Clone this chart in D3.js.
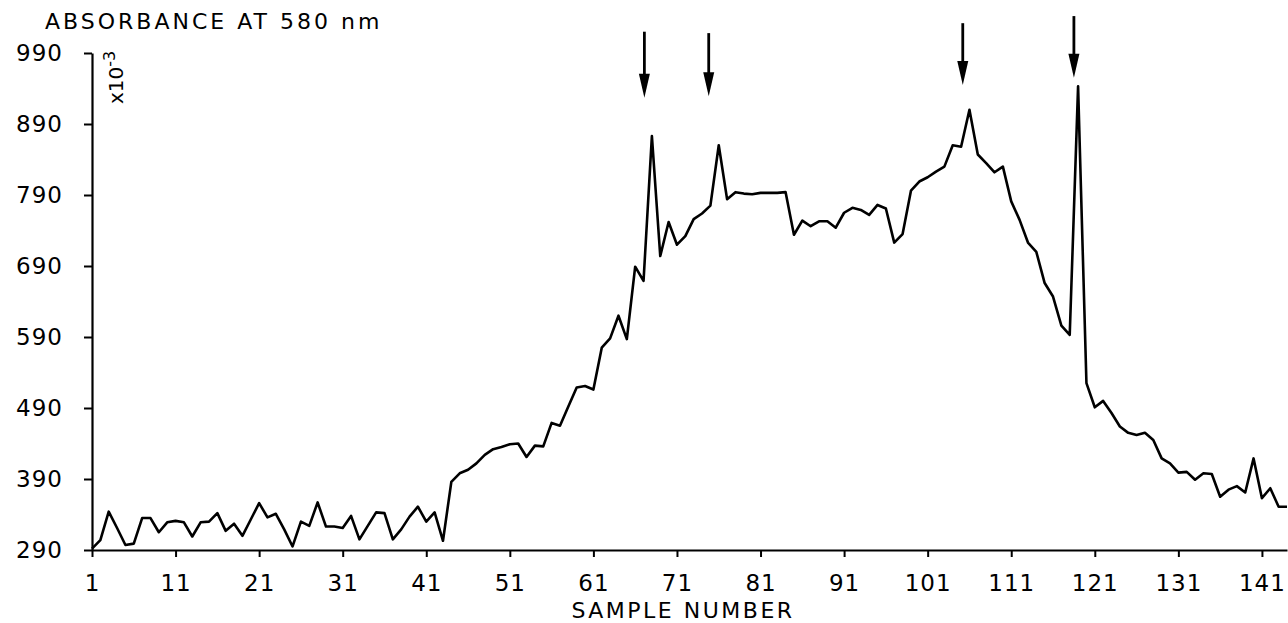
<!DOCTYPE html>
<html>
<head>
<meta charset="utf-8">
<script src="https://cdn.jsdelivr.net/npm/d3@7"></script>
<style>
  body { margin: 0; background: #fff; }
  svg { display: block; }
  text { font-family: "DejaVu Sans", sans-serif; fill: #000; }
</style>
</head>
<body>
<svg class="s"></svg>
<script>
// absorbance (x10^-3) for samples 1..144
var absorbance = [
  292, 304, 344, 321, 297, 299, 335, 335, 315, 329,
  331, 329, 309, 329, 330, 342, 317, 327, 310, 333,
  356, 336, 341, 319, 295, 330, 324, 357, 323, 323,
  321, 338, 305, 324, 343, 342, 305, 319, 337, 351,
  330, 343, 303, 386, 398, 403, 412, 424, 432, 435,
  439, 440, 421, 437, 436, 469, 465, 492, 519, 521,
  516, 575, 588, 620, 587, 689, 669, 873, 704, 752,
  720, 732, 756, 764, 775, 860, 784, 794, 792, 791,
  793, 793, 793, 794, 734, 754, 746, 753, 753, 744,
  765, 772, 769, 762, 776, 771, 723, 735, 796, 809,
  815, 823, 830, 860, 858, 910, 847, 835, 822, 830,
  781, 755, 723, 710, 666, 647, 606, 593, 943, 525,
  491, 500, 483, 464, 455, 452, 455, 445, 419, 412,
  399, 400, 389, 398, 397, 365, 375, 380, 371, 419,
  363, 377, 351, 351
];

var xTicks = [1, 11, 21, 31, 41, 51, 61, 71, 81, 91, 101, 111, 121, 131, 141];
var yTicks = [290, 390, 490, 590, 690, 790, 890, 990];

// the four marker arrows (sample position, tip value, tail value)
var arrowSample = [67.1, 74.8, 105.2, 118.5];
var arrowTip = [927, 929, 945, 955];
var arrowTail = [1020, 1018, 1032, 1042];

var w = 1288;
var h = 623;

var svg = d3.select('.s')
            .attr('width', w)
            .attr('height', h);

var x = d3.scaleLinear()
          .domain([1, 144])
          .range([92, 1287]);

var y = d3.scaleLinear()
          .domain([290, 990])
          .range([550, 53]);

// y axis
var yAxis = svg.append('g')
    .attr('transform', 'translate(92,0)')
    .attr('font-size', 23)
    .call(d3.axisLeft(y).tickValues(yTicks).tickSize(8).tickSizeOuter(0).tickPadding(21));

// x axis
var xAxis = svg.append('g')
    .attr('transform', 'translate(0,550)')
    .call(d3.axisBottom(x).tickValues(xTicks).tickSize(7).tickSizeOuter(0).tickPadding(18));

svg.selectAll('g').attr('font-size', 23).attr('font-family', '"DejaVu Sans", sans-serif');
svg.selectAll('.domain').attr('stroke', '#000').attr('stroke-width', 2.2);
svg.selectAll('.tick line').attr('stroke', '#000').attr('stroke-width', 2);
svg.selectAll('.tick text')
   .style('letter-spacing', '1px')
   .attr('fill', '#000');

// the trace
var line = d3.line()
    .x(function(d, i){ return x(i + 1); })
    .y(function(d){ return y(d); });

svg.append('path')
   .datum(absorbance)
   .attr('d', line)
   .attr('fill', 'none')
   .attr('stroke', '#000')
   .attr('stroke-width', 2.6)
   .attr('stroke-linejoin', 'round');

// arrows
var arrows = svg.append('g').selectAll('g')
    .data(arrowSample)
    .enter()
    .append('g');

arrows.append('line')
    .attr('x1', function(d){ return x(d); })
    .attr('x2', function(d){ return x(d); })
    .attr('y1', function(d, i){ return y(arrowTail[i]); })
    .attr('y2', function(d, i){ return y(arrowTip[i]) - 15; })
    .attr('stroke', '#000')
    .attr('stroke-width', 2.8);

arrows.append('path')
    .attr('d', function(d, i){
      var ax = x(d), ay = y(arrowTip[i]);
      return 'M' + (ax - 5.5) + ',' + (ay - 24) + 'L' + (ax + 5.5) + ',' + (ay - 24) + 'L' + ax + ',' + ay + 'Z';
    })
    .attr('fill', '#000');

// labels
svg.append('text')
   .attr('x', 45)
   .attr('y', 29)
   .style('font-size', '22px')
   .style('letter-spacing', '3px')
   .text('ABSORBANCE AT 580 nm');

svg.append('text')
   .attr('x', 683)
   .attr('y', 618)
   .attr('text-anchor', 'middle')
   .style('font-size', '22px')
   .style('letter-spacing', '2.5px')
   .text('SAMPLE NUMBER');

var unit = svg.append('text')
   .attr('transform', 'translate(123,104) rotate(-90)')
   .style('font-size', '20px');
unit.append('tspan').text('x10');
unit.append('tspan').attr('dy', -8).style('font-size', '16px').text('-3');
</script>
</body>
</html>
